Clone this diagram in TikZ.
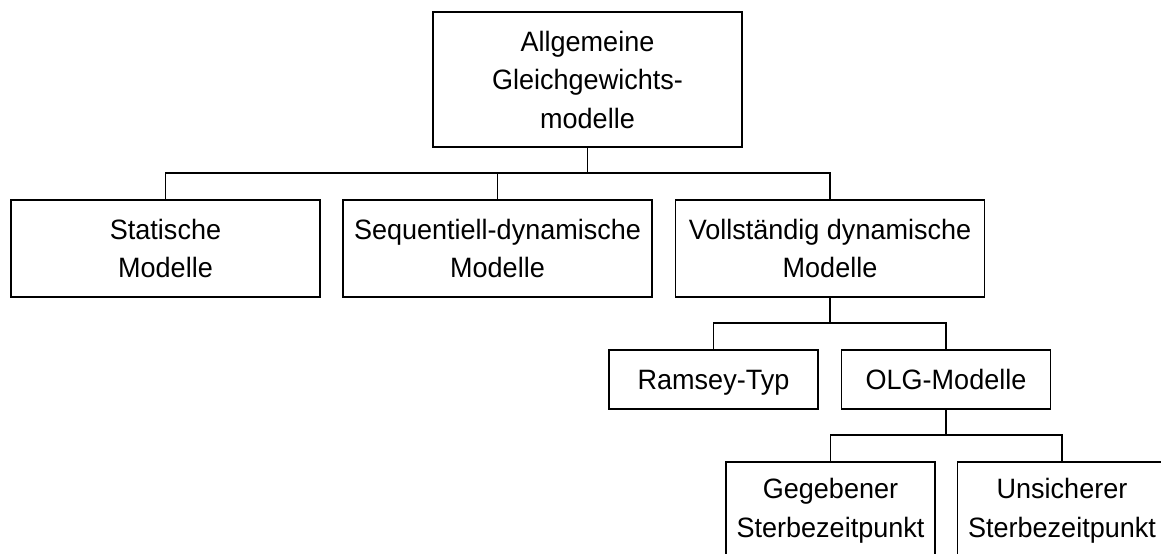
\documentclass[tikz,border=0pt]{standalone}
\usepackage{fontspec}
\setmainfont{Liberation Sans}[FakeStretch=0.965]
\begin{document}
\begin{tikzpicture}[x=0.5pt,y=-0.5pt,
  box/.style={draw, line width=0.9pt, rectangle, inner sep=0pt, outer sep=0pt,
    align=center, font=\fontsize{14}{19.25}\selectfont},
  wide/.style={box, minimum width=154.5pt, minimum height=48.5pt},
  small/.style={box, minimum width=104.5pt, minimum height=29.5pt,
    text height=10pt, text depth=0pt},
  tall/.style={box, minimum width=104.5pt, minimum height=48.5pt},
  link/.style={line width=0.9pt}]
\clip (0,0) rectangle (1161,553);
\fill[white] (0,0) rectangle (1161,553);

% root
\node[box, minimum width=154.5pt, minimum height=67.5pt] (root) at (587.5,79.5)
  {Allgemeine\\Gleichgewichts-\\modelle};

% first level
\node[wide] (stat) at (165.5,248.5) {Statische\\Modelle};
\node[wide] (seq)  at (497.5,248.5) {Sequentiell-dynamische\\Modelle};
\node[wide] (voll) at (830,248.5)   {Vollständig dynamische\\Modelle};

% second level
\node[small] (ram) at (713.5,379.5) {Ramsey-Typ};
\node[small] (olg) at (946,379.5)   {OLG-Modelle};

% third level
\node[tall] (geg) at (830.5,510.5) {Gegebener\\Sterbezeitpunkt};
\node[tall] (uns) at (1062,510.5)  {Unsicherer\\Sterbezeitpunkt};

% connectors
\draw[link] (root.south) -- ++(0,26);
\draw[link] (stat.north) -- ++(0,-27) -| (voll.north);
\draw[link] (seq.north) -- ++(0,-27);

\draw[link] (voll.south) -- ++(0,26);
\draw[link] (ram.north) -- ++(0,-27) -| (olg.north);

\draw[link] (olg.south) -- ++(0,26);
\draw[link] (geg.north) -- ++(0,-27) -| (uns.north);
\end{tikzpicture}
\end{document}
